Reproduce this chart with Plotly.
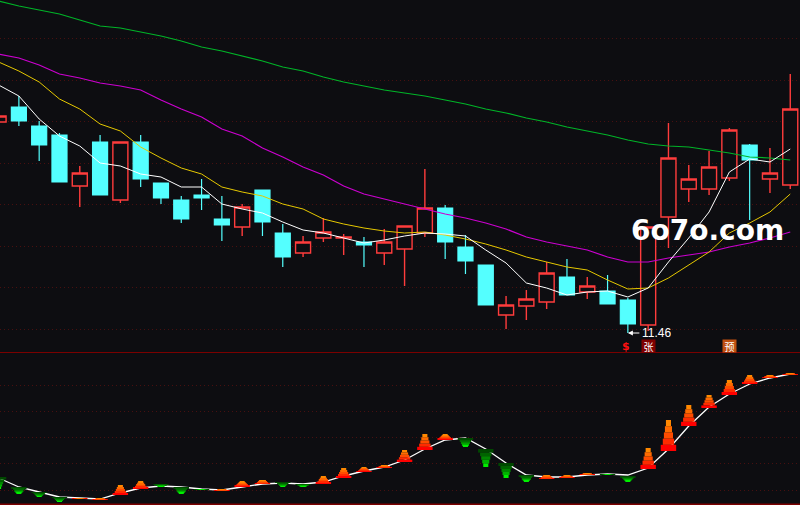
import plotly.graph_objects as go

days = list(range(40))
opens = [13.57,13.72,13.53,13.44,12.93,13.37,12.79,13.37,12.96,12.79,12.84,12.60,12.52,12.89,12.46,12.26,12.41,12.41,12.37,12.26,
         12.30,12.46,12.71,12.32,12.14,11.64,11.73,11.77,12.02,11.87,11.88,11.79,11.54,12.62,12.90,12.90,13.01,13.34,13.00,12.94]
closes = [13.63,13.58,13.34,12.97,13.06,12.84,13.37,13.00,12.81,12.60,12.81,12.54,12.72,12.57,12.22,12.37,12.47,12.42,12.34,12.37,
          12.53,12.71,12.37,12.18,11.74,11.74,11.80,12.06,11.84,11.93,11.75,11.55,12.52,13.21,13.00,13.12,13.49,13.19,13.06,13.70]
highs = [13.63,13.83,13.58,13.46,13.13,13.44,13.37,13.44,12.96,12.83,13.00,12.83,12.75,12.89,12.55,12.43,12.61,12.45,12.42,12.50,
         12.53,13.10,12.74,12.44,12.14,11.83,11.89,12.17,12.20,12.02,12.04,11.81,12.52,13.56,13.14,13.28,13.51,13.35,13.31,14.05]
lows = [13.57,13.53,13.18,12.97,12.72,12.84,12.76,12.92,12.75,12.56,12.69,12.38,12.43,12.43,12.12,12.22,12.37,12.24,12.12,12.14,
        11.93,12.42,12.20,12.05,11.74,11.50,11.59,11.70,11.84,11.80,11.75,11.46,11.48,12.31,12.77,12.84,12.98,12.59,12.86,12.90]
ma5 = [13.94,13.83,13.60,13.43,13.33,13.16,13.13,13.05,13.02,12.92,12.92,12.75,12.70,12.66,12.57,12.49,12.46,12.41,12.36,12.39,
       12.43,12.46,12.45,12.43,12.29,12.16,11.96,11.91,11.84,11.87,11.88,11.82,11.91,12.17,12.41,12.67,13.07,13.20,13.17,13.30]
ma10 = [14.17,14.08,13.97,13.80,13.70,13.55,13.48,13.32,13.21,13.11,13.05,12.92,12.87,12.83,12.75,12.70,12.60,12.55,12.51,12.48,
        12.46,12.47,12.44,12.40,12.35,12.29,12.22,12.17,12.12,12.09,11.99,11.90,11.91,12.01,12.14,12.27,12.46,12.56,12.67,12.85]
ma20 = [14.25,14.21,14.14,14.05,14.01,13.96,13.93,13.89,13.79,13.70,13.62,13.50,13.43,13.31,13.22,13.12,13.04,12.93,12.85,12.80,
        12.75,12.70,12.65,12.61,12.56,12.50,12.42,12.37,12.33,12.29,12.22,12.17,12.17,12.21,12.24,12.27,12.32,12.36,12.41,12.47]
ma60 = [14.78,14.73,14.69,14.65,14.59,14.53,14.51,14.47,14.43,14.38,14.32,14.28,14.23,14.18,14.12,14.08,14.02,13.97,13.93,13.89,
        13.86,13.83,13.79,13.75,13.70,13.66,13.61,13.57,13.52,13.48,13.44,13.39,13.35,13.33,13.32,13.29,13.26,13.22,13.21,13.19]
price_grid = [11.50,11.92,12.33,12.75,13.16,13.58,13.99,14.41]

osc = [27,18,13,8,7,6,12,17,19,18,16,15,18,21,22,21,23,29,34,38,45,56,65,67,56,42,30,28,28,30,31,30,37,56,79,98,111,121,127,131]
cone_top = [28,18,13,8,7,7,20,24,21,18,16,16,24,25,23,21,29,37,38,40,55,71,71,67,56,42,30,30,30,32,31,29,57,85,100,110,125,130,130,132]
cone_bot = [16,11,8,3,6,5,10,16,18,11,15,14,18,21,18,18,21,27,33,37,43,55,65,58,38,27,23,26,27,30,30,23,36,54,79,97,110,121,127,130]
cone_dir = list("GGGGRRRRGGGRRRGGRRRRRRRGGGGRRRGGRRRRRRRR")
osc_grid = [15,42,68,94,120]

BG = "#0d0d11"
RED = "#ff3c3c"
CYAN = "#54ffff"
TOP_H = 353
H = 505

fig = go.Figure()
fig.add_trace(go.Candlestick(
    x=days, open=opens, high=highs, low=lows, close=closes,
    increasing=dict(line=dict(color=RED, width=1.4), fillcolor=BG),
    decreasing=dict(line=dict(color=CYAN, width=1.2), fillcolor=CYAN),
    whiskerwidth=0, xaxis="x", yaxis="y", showlegend=False))
for vals, col, w in [(ma60, "#00b428", 1.2), (ma20, "#cc00d0", 1.2), (ma10, "#e6c800", 1.0), (ma5, "#ffffff", 1.0)]:
    fig.add_trace(go.Scatter(x=days, y=vals, mode="lines", line=dict(color=col, width=w),
                             xaxis="x", yaxis="y", showlegend=False))

fig.add_trace(go.Scatter(x=days, y=osc, mode="lines", line=dict(color="#ffffff", width=1.3),
                         xaxis="x2", yaxis="y2", showlegend=False))

widths = [0.76, 0.56, 0.45, 0.35, 0.25]
up_cols = ["#ff0000", "#ff2a00", "#ff4c00", "#ff6a00", "#ff8800"]
dn_cols = ["#004800", "#006400", "#008800", "#00b400", "#00f000"]
for k in range(5):
    xs, bases, hs, cols = [], [], [], []
    for d, t, b, c in zip(days, cone_top, cone_bot, cone_dir):
        step = (t - b) / 5
        xs.append(d)
        hs.append(step)
        if c == "R":
            bases.append(b + k * step)
            cols.append(up_cols[k])
        else:
            bases.append(t - (k + 1) * step)
            cols.append(dn_cols[k])
    fig.add_trace(go.Bar(x=xs, y=hs, base=bases, width=widths[k], marker=dict(color=cols, line=dict(width=0)),
                         xaxis="x2", yaxis="y3", showlegend=False))

x_range = [0.07, 39.48]
grid = dict(showgrid=True, gridcolor="#481010", griddash="1px,3px", gridwidth=1, zeroline=False,
            showticklabels=False, ticks="", tickmode="array", showline=False)
fig.update_layout(
    width=800, height=505, margin=dict(l=0, r=0, t=0, b=0), autosize=False,
    paper_bgcolor=BG, plot_bgcolor=BG, barmode="overlay", boxgap=0.26, boxgroupgap=0, showlegend=False,
    xaxis=dict(domain=[0, 1], range=x_range, visible=False, rangeslider=dict(visible=False), anchor="y"),
    xaxis2=dict(domain=[0, 1], range=x_range, visible=False, anchor="y2"),
    yaxis=dict(domain=[(H - TOP_H + 1) / H, 1], range=[14.79 - 3.52, 14.79], tickvals=price_grid, anchor="x", **grid),
    yaxis2=dict(domain=[0, (H - TOP_H) / H], range=[0, 152], tickvals=osc_grid, anchor="x2", **grid),
    yaxis3=dict(domain=[0, (H - TOP_H) / H], range=[0, 152], overlaying="y2", anchor="x2", visible=False),
    shapes=[
        dict(type="line", xref="paper", yref="paper", x0=0, x1=1, y0=(H - 352.5) / H, y1=(H - 352.5) / H,
             line=dict(color="#7a0000", width=1)),
        dict(type="line", xref="paper", yref="paper", x0=0, x1=1, y0=0.8 / H, y1=0.8 / H,
             line=dict(color="#7a0000", width=1.5)),
    ],
    annotations=[
        dict(x=31, y=11.46, xref="x", yref="y", ax=13, ay=0, text="", showarrow=True, arrowhead=2,
             arrowsize=1, arrowwidth=1, arrowcolor="#ffffff", standoff=0),
        dict(x=31.62, y=11.47, xref="x", yref="y", text="11.46", showarrow=False, xanchor="left", height=9,
             font=dict(family="Liberation Sans", size=12, color="#ffffff")),
        dict(x=30.9, y=11.33, xref="x", yref="y", text="<b>$</b>", showarrow=False, height=13,
             font=dict(family="DejaVu Sans", size=11, color="#ff1010")),
        dict(x=32, y=11.33, xref="x", yref="y", text="张", showarrow=False, bgcolor="#800000", borderpad=0,
             width=13, height=12, font=dict(family="Noto Sans CJK SC", size=10, color="#ffffff")),
        dict(x=36, y=11.33, xref="x", yref="y", text="预", showarrow=False, bgcolor="#c05010", borderpad=0,
             width=13, height=12, font=dict(family="Noto Sans CJK SC", size=10, color="#ffffff")),
        dict(x=34.9, y=12.49, xref="x", yref="y", text="<b>6o7o.com</b>", showarrow=False,
             font=dict(family="DejaVu Sans", size=28, color="#ffffff")),
    ],
)
fig.write_html("out.html", config=dict(displayModeBar=False),
               post_script="document.body.style.margin='0';document.body.style.overflow='hidden';")
